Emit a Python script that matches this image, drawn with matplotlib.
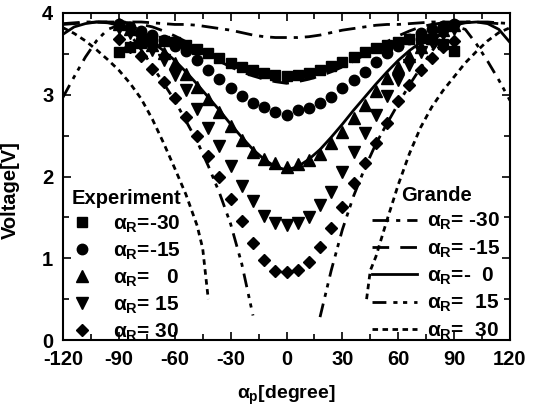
import numpy as np
import matplotlib
matplotlib.use('Agg')
import matplotlib.pyplot as plt
from matplotlib.ticker import MultipleLocator

plt.rcParams['font.family'] = ['Liberation Sans', 'DejaVu Sans']
plt.rcParams['font.weight'] = 'bold'
plt.rcParams['axes.labelweight'] = 'bold'
plt.rcParams['axes.unicode_minus'] = False
plt.rcParams['mathtext.fontset'] = 'custom'
plt.rcParams['mathtext.rm'] = 'Liberation Sans:bold'
plt.rcParams['mathtext.it'] = 'Liberation Sans:bold'
plt.rcParams['mathtext.bf'] = 'Liberation Sans:bold'

# experiment: alpha_p every 6 degrees
exp_x = [-90, -84, -78, -72, -66, -60, -54, -48, -42, -36, -30, -24, -18, -12, -6,
         0, 6, 12, 18, 24, 30, 36, 42, 48, 54, 60, 66, 72, 78, 84, 90]
exp_m30 = [3.52, 3.58, 3.63, 3.67, 3.66, 3.64, 3.61, 3.56, 3.51, 3.45, 3.39, 3.34, 3.30, 3.27, 3.24,
           3.23, 3.24, 3.27, 3.30, 3.35, 3.40, 3.46, 3.52, 3.57, 3.61, 3.65, 3.68, 3.70, 3.68, 3.62, 3.53]
exp_m15 = [3.86, 3.83, 3.78, 3.73, 3.67, 3.60, 3.53, 3.43, 3.30, 3.19, 3.08, 2.98, 2.90, 2.85, 2.79,
           2.75, 2.81, 2.84, 2.90, 2.97, 3.08, 3.18, 3.28, 3.40, 3.51, 3.60, 3.68, 3.75, 3.80, 3.84, 3.87]
exp_0 = [3.86, 3.80, 3.71, 3.61, 3.51, 3.39, 3.25, 3.10, 2.95, 2.79, 2.62, 2.45, 2.30, 2.22, 2.16,
         2.12, 2.15, 2.20, 2.28, 2.41, 2.55, 2.71, 2.88, 3.04, 3.20, 3.34, 3.48, 3.59, 3.70, 3.79, 3.85]
exp_15 = [3.82, 3.75, 3.67, 3.55, 3.42, 3.24, 3.06, 2.83, 2.59, 2.37, 2.13, 1.88, 1.70, 1.52, 1.43,
          1.41, 1.43, 1.51, 1.65, 1.81, 2.06, 2.30, 2.53, 2.75, 2.98, 3.18, 3.37, 3.52, 3.64, 3.74, 3.80]
exp_30 = [3.68, 3.58, 3.47, 3.32, 3.16, 2.96, 2.73, 2.50, 2.25, 1.99, 1.72, 1.45, 1.19, 0.98, 0.84,
          0.83, 0.86, 0.96, 1.14, 1.37, 1.63, 1.92, 2.16, 2.41, 2.66, 2.92, 3.12, 3.30, 3.45, 3.59, 3.66]

# Grande model curves
th_x = [-120, -114, -108, -102, -96, -90, -84, -78, -72, -66, -60, -54, -48, -42, -36, -30, -24, -18, -12, -6,
        0, 6, 12, 18, 24, 30, 36, 42, 48, 54, 60, 66, 72, 78, 84, 90, 96, 102, 108, 114, 120]
th_m30 = [3.87, 3.88, 3.89, 3.89, 3.89, 3.89, 3.89, 3.89, 3.88, 3.87, 3.86, 3.86, 3.85, 3.83, 3.81, 3.79, 3.76, 3.73, 3.71, 3.70,
          3.70, 3.70, 3.71, 3.73, 3.76, 3.79, 3.81, 3.83, 3.85, 3.86, 3.86, 3.87, 3.88, 3.89, 3.89, 3.89, 3.89, 3.89, 3.89, 3.88, 3.87]
th_m15 = [3.86, 3.87, 3.88, 3.89, 3.89, 3.89, 3.88, 3.86, 3.83, 3.78, 3.72, 3.65, 3.57, 3.49, 3.41, 3.34, 3.28, 3.23, 3.19, 3.16,
          3.14, 3.16, 3.19, 3.23, 3.28, 3.34, 3.41, 3.49, 3.57, 3.65, 3.72, 3.78, 3.83, 3.86, 3.88, 3.89, 3.89, 3.89, 3.88, 3.87, 3.86]
th_0 = [3.74, 3.83, 3.87, 3.89, 3.88, 3.85, 3.80, 3.73, 3.64, 3.54, 3.42, 3.28, 3.13, 2.97, 2.81, 2.64, 2.48, 2.33, 2.21, 2.12,
        2.08, 2.12, 2.21, 2.33, 2.48, 2.64, 2.81, 2.97, 3.13, 3.28, 3.42, 3.54, 3.64, 3.73, 3.80, 3.85, 3.88, 3.89, 3.87, 3.80, 3.64]
th_15 = [2.97, 3.22, 3.46, 3.66, 3.80, 3.85, 3.74, 3.55, 3.35, 3.14, 2.93, 2.68, 2.43, 2.13, 1.80, 1.42, 0.93, 0.30, None, None,
         None, None, None, 0.28, 0.85, 1.35, 1.76, 2.10, 2.40, 2.65, 2.89, 3.12, 3.33, 3.53, 3.72, 3.84, 3.80, 3.62, 3.41, 3.18, 2.93]
th30_x = [-120, -114, -108, -102, -96, -90, -84, -78, -72, -66, -60, -54, -48, -45, -42, None,
          43, 45, 48, 54, 60, 66, 72, 78, 84, 90, 96, 102, 108, 114, 120]
th_30 = [3.82, 3.75, 3.66, 3.55, 3.43, 3.30, 3.14, 2.95, 2.70, 2.41, 2.10, 1.78, 1.40, 1.12, 0.50, None,
         0.50, 0.85, 1.02, 1.47, 1.90, 2.28, 2.60, 2.85, 3.05, 3.22, 3.39, 3.53, 3.66, 3.76, 3.82]

exp_labels = [r'$\alpha_R$=-30', r'$\alpha_R$=-15', r'$\alpha_R$=   0', r'$\alpha_R$= 15', r'$\alpha_R$= 30']
th_labels = [r'$\alpha_R$= -30', r'$\alpha_R$= -15', r'$\alpha_R$=-  0', r'$\alpha_R$=  15', r'$\alpha_R$=  30']

fig = plt.figure(figsize=(5.43, 4.08), dpi=100)
ax = fig.add_axes([63 / 543, 68 / 408, 447 / 543, 327 / 408])

f = lambda v: np.array(v, dtype=float)

exp_h = []
for ys, mk, ms in [(exp_m30, 's', 6.5), (exp_m15, 'o', 7.5), (exp_0, '^', 8.5),
                   (exp_15, 'v', 8.5), (exp_30, 'D', 6.5)]:
    h, = ax.plot(exp_x, ys, linestyle='none', marker=mk, ms=ms, color='black', zorder=3)
    exp_h.append(h)

th_h = []
for xs, ys, dash in [(th_x, th_m30, (6, 2.5, 1.5, 2.5)), (th_x, th_m15, (6, 4)),
                     (th_x, th_0, None), (th_x, th_15, (5, 2.5, 1.5, 2, 1.5, 2.5)),
                     (th30_x, th_30, (2, 1.6))]:
    h, = ax.plot(f(xs), f(ys), color='black', lw=2.0, zorder=2)
    if dash is not None:
        h.set_dashes(dash)
    th_h.append(h)

ax.set_xlim(-120, 120)
ax.set_ylim(0, 4)
ax.xaxis.set_major_locator(MultipleLocator(30))
ax.xaxis.set_minor_locator(MultipleLocator(15))
ax.yaxis.set_major_locator(MultipleLocator(1))
ax.yaxis.set_minor_locator(MultipleLocator(0.5))
ax.tick_params(which='both', direction='in', top=True, right=True, width=1.2)
ax.tick_params(which='major', length=6, labelsize=14.5)
ax.tick_params(axis='x', which='major', pad=7)
ax.tick_params(axis='y', which='major', pad=7)
ax.tick_params(which='minor', length=4)
for s in ax.spines.values():
    s.set_linewidth(1.5)

ax.set_xlabel(r'$\alpha_p$[degree]', fontsize=14)
ax.set_ylabel('Voltage[V]', fontsize=14.5)
ax.xaxis.set_label_coords(0.5, -0.135)
ax.yaxis.set_label_coords(-0.096, 0.46)

leg1 = ax.legend(exp_h, exp_labels, title='Experiment', loc='upper left',
                 bbox_to_anchor=(72 / 543, 1 - 189 / 408), bbox_transform=fig.transFigure,
                 frameon=False, fontsize=15, title_fontsize=14.5, handlelength=0.95,
                 handletextpad=1.0, labelspacing=0.27, borderpad=0, borderaxespad=0,
                 alignment='left')
ax.add_artist(leg1)
ax.legend(th_h, th_labels, title='Grande', loc='upper left',
          bbox_to_anchor=(372 / 543, 1 - 186 / 408), bbox_transform=fig.transFigure,
          frameon=False, fontsize=15, title_fontsize=14.5, handlelength=2.15,
          handletextpad=0.5, labelspacing=0.29, borderpad=0, borderaxespad=0)

fig.savefig('out.png', dpi=100)
